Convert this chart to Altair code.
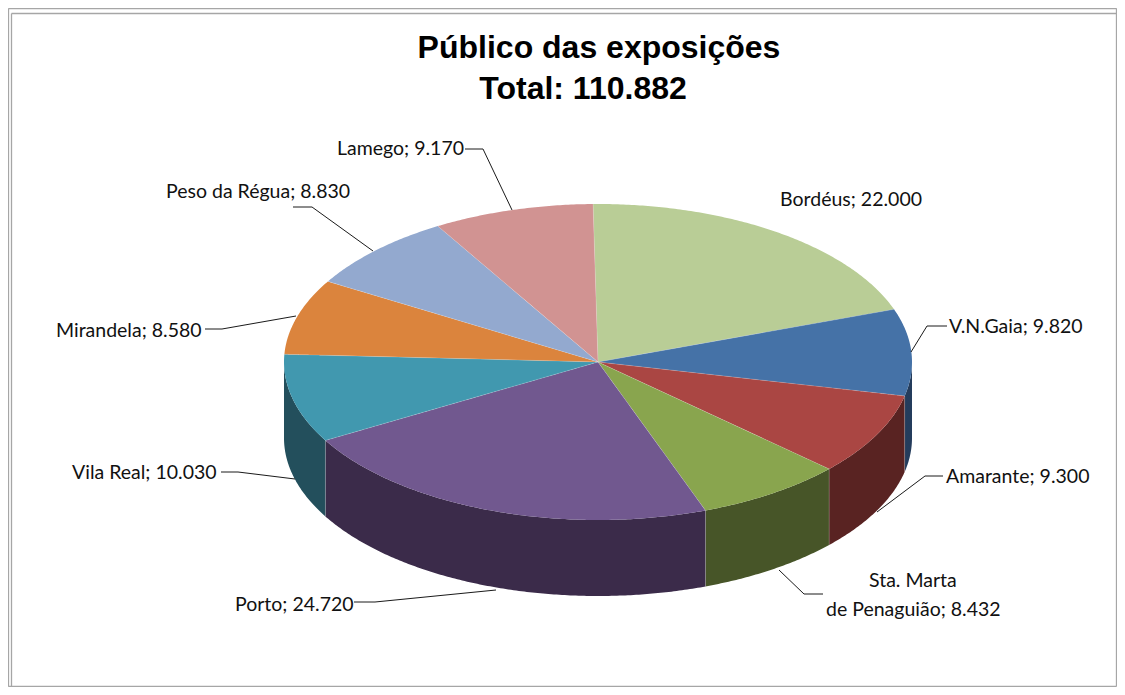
import math
import pandas as pd
import altair as alt

names = ["Bordéus", "V.N.Gaia", "Amarante", "Sta. Marta de Penaguião", "Porto",
         "Vila Real", "Mirandela", "Peso da Régua", "Lamego"]
values = [22000, 9820, 9300, 8432, 24720, 10030, 8580, 8830, 9170]
top_colors = ["#B9CD96", "#4572A7", "#AA4643", "#89A54E", "#71588F",
              "#4198AF", "#DB843D", "#93A9CF", "#D19392"]
wall_colors = ["#6E7B59", "#243C5C", "#592322", "#475528", "#3B2B4A",
               "#234F5C", "#7A4820", "#55637A", "#7A5655"]
label_texts = ["Bordéus; 22.000", "V.N.Gaia; 9.820", "Amarante; 9.300", "Sta. Marta",
               "de Penaguião; 8.432", "Porto; 24.720", "Vila Real; 10.030",
               "Mirandela; 8.580", "Peso da Régua; 8.830", "Lamego; 9.170"]
title_lines = ["Público das exposições", "Total: 110.882"]

# Geometry of the tilted pie, in page pixels
CX, CY, RX, RY, DEPTH, START = 598, 362, 314, 158, 76, -0.9
WIDTH, HEIGHT = 1109, 679

x_scale = alt.Scale(domain=[8, 8 + WIDTH], range=[0, WIDTH], nice=False, zero=False)
y_scale = alt.Scale(domain=[8 + HEIGHT, 8], range=[HEIGHT, 0], nice=False, zero=False)
X = alt.X("x:Q", scale=x_scale, axis=None)
Y = alt.Y("y:Q", scale=y_scale, axis=None)
Y2 = alt.Y2("y2:Q")


def rim(angle):
    r = math.radians(angle)
    return CX + RX * math.sin(r), CY - RY * math.cos(r)


total = sum(values)
edges = [START]
for v in values:
    edges.append(edges[-1] + 360 * v / total)

top_rows, wall_rows, seam_rows = [], [], []
for name, a0, a1 in zip(names, edges[:-1], edges[1:]):
    n = max(2, int((a1 - a0) * 2))
    arc = [rim(a0 + (a1 - a0) * i / n) for i in range(n + 1)]
    poly = [(CX, CY)] + arc
    segs = list(zip(poly, poly[1:] + poly[:1]))
    for px in sorted({p[0] for p in poly}):
        ys = []
        for (x0, y0), (x1, y1) in segs:
            if min(x0, x1) <= px <= max(x0, x1):
                if x0 == x1:
                    ys += [y0, y1]
                else:
                    ys.append(y0 + (y1 - y0) * (px - x0) / (x1 - x0))
        top_rows.append({"name": name, "x": px, "y": min(ys), "y2": max(ys)})
    lo, hi = max(a0, 90), min(a1, 270)
    if lo < hi:
        m = max(2, int((hi - lo) * 2))
        for i in range(m + 1):
            px, py = rim(lo + (hi - lo) * i / m)
            wall_rows.append({"name": name, "x": px, "y": py, "y2": py + DEPTH})
for k, a in enumerate(edges[:-1]):
    px, py = rim(a)
    seam_rows += [{"k": k, "o": 0, "x": CX, "y": CY}, {"k": k, "o": 1, "x": px, "y": py}]
    if 90 < a < 270:
        seam_rows += [{"k": 100 + k, "o": 0, "x": px, "y": py},
                      {"k": 100 + k, "o": 1, "x": px, "y": py + DEPTH}]

walls = alt.Chart(pd.DataFrame(wall_rows)).mark_area(interpolate="linear").encode(
    x=X, y=Y, y2=Y2,
    color=alt.Color("name:N", scale=alt.Scale(domain=names, range=wall_colors), legend=None),
)
tops = alt.Chart(pd.DataFrame(top_rows)).mark_area(interpolate="linear").encode(
    x=X, y=Y, y2=Y2,
    color=alt.Color("name:N", scale=alt.Scale(domain=names, range=top_colors), legend=None),
)
seams = alt.Chart(pd.DataFrame(seam_rows)).mark_line(
    color="#FFFFFF", strokeWidth=0.5, opacity=0.35
).encode(x=X, y=Y, detail="k:N", order="o:Q")

# Leader lines: label end, elbow, pie end
leader_paths = [
    [(465, 149), (483, 149), (512, 210)],
    [(293, 207), (312, 207), (373, 251)],
    [(205, 329), (222, 329), (296, 316)],
    [(221, 472), (238, 472), (295, 479)],
    [(354, 602), (375, 602), (496, 590)],
    [(823, 594), (804, 594), (779, 570)],
    [(943, 476), (925, 476), (877, 512)],
    [(947, 326), (927, 326), (911, 352)],
]
leader_rows = [{"k": k, "o": i, "x": p[0], "y": p[1]}
               for k, path in enumerate(leader_paths) for i, p in enumerate(path)]
leaders = alt.Chart(pd.DataFrame(leader_rows)).mark_line(
    color="#1A1A1A", strokeWidth=1
).encode(x=X, y=Y, detail="k:N", order="o:Q")

label_x = [780, 949, 946, 869, 826, 235, 72, 56, 166, 337]
label_y = [200, 327, 477, 581, 610, 605, 473, 331, 192, 149]
labels = alt.Chart(pd.DataFrame({"t": label_texts, "x": label_x, "y": label_y})).mark_text(
    font="Lato", fontSize=19.5, align="left", baseline="middle", color="#111111"
).encode(x=X, y=Y, text="t:N")

titles = alt.Chart(pd.DataFrame({"t": title_lines, "x": [599, 583], "y": [48, 89]})).mark_text(
    font="Liberation Sans", fontSize=32, fontWeight="bold", align="center",
    baseline="middle", color="#000000"
).encode(x=X, y=Y, text="t:N")

frame_rows = [
    {"x": 8.5, "y": 8.5, "x2": 1116.5, "y2": 8.5},
    {"x": 8.5, "y": 8.5, "x2": 8.5, "y2": 686.5},
    {"x": 11.5, "y": 13.5, "x2": 1116.5, "y2": 13.5},
    {"x": 11.5, "y": 13.5, "x2": 11.5, "y2": 686.5},
    {"x": 8.5, "y": 686.5, "x2": 1116.5, "y2": 686.5},
    {"x": 1116.5, "y": 8.5, "x2": 1116.5, "y2": 686.5},
]
frame = alt.Chart(pd.DataFrame(frame_rows)).mark_rule(color="#A6A6A6", strokeWidth=1.3).encode(
    x=X, y=Y, x2="x2:Q", y2=Y2
)

chart = alt.layer(frame, walls, tops, seams, leaders, labels, titles).resolve_scale(
    color="independent"
).properties(
    width=WIDTH, height=HEIGHT, padding=0, autosize=alt.AutoSizeParams(type="none")
).configure_view(stroke=None).configure(background="#FFFFFF")

chart.save("out.html", embed_options={"renderer": "svg", "actions": False})
